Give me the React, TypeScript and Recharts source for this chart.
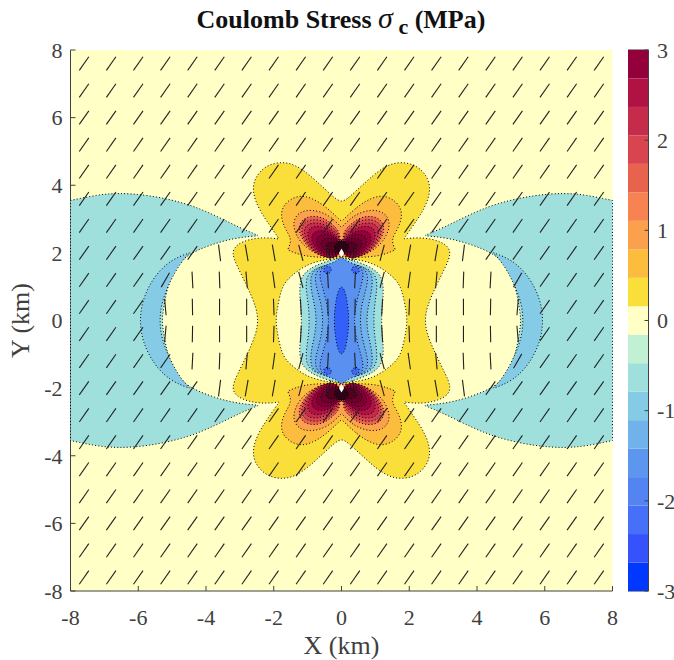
import { Bar, BarChart, CartesianGrid, ReferenceArea, Scatter, ScatterChart, Symbols, XAxis, YAxis } from "recharts"

type Pt = [number, number]

const axisTicks = [-8, -6, -4, -2, 0, 2, 4, 6, 8]
const colorbarTicks = [0, 1, 2, 3, 4, 5, 6]

// colorbar bands, bottom (-3) to top (3)
const bandColors = [
  "#0038FF", "#3552FB", "#4570F7", "#5384F2", "#5D96EE", "#71B2EA", "#85CBE6", "#9FE0DD", "#C2F0D2", "#FFFFC6",
  "#FADF3A", "#FCBC3E", "#FBA04C", "#F68351", "#E7634E", "#D8454F", "#C52C4B", "#B01243", "#94003C",
]

// contour outlines in km
const goldQuadrant: Pt[] = [
  [0, 3.49], [0.2, 3.62], [0.46, 3.86], [0.7, 4.08], [0.95, 4.31], [1.35, 4.6], [1.74, 4.7], [2.23, 4.6],
  [2.58, 4.21], [2.63, 3.77], [2.43, 3.27], [2.13, 2.83], [1.84, 2.41], [1.84, 2.41], [2.23, 2.46], [2.72, 2.41],
  [3.1, 2.25], [3.25, 2.0], [3.08, 1.6], [2.78, 1.01], [2.5, 0.35], [2.47, 0],
]
const circleQuadrant: Pt[] = [
  [0, 1.85], [0.4, 1.82], [0.91, 1.7], [1.26, 1.5], [1.6, 1.22], [1.78, 0.95], [1.92, 0.24], [1.93, 0],
]
const tealOuter: Pt[] = [
  [8, 3.55], [8, 3.55], [8, 3.55], [7.2, 3.72], [6.6, 3.77], [5.73, 3.72], [4.55, 3.47], [3.67, 3.08], [2.98, 2.73], [2.44, 2.51], [2.44, 2.51],
  [3.18, 2.44], [3.86, 2.24], [4.5, 1.98], [4.9, 1.6], [5.14, 1.01], [5.26, 0.32], [5.3, 0],
]
const crescentOuter: Pt[] = [
  [4.47, 2.01], [4.47, 2.01], [5.04, 1.8], [5.54, 1.31], [5.88, 0.62], [5.96, 0],
]
const crescentInner: Pt[] = [
  [5.37, 0], [5.32, 0.53], [5.04, 1.21], [4.75, 1.71],
]

const coolTeal: Pt[] = [[0, 1.84], [0.23, 1.82], [0.8, 1.62], [1.08, 1.42], [1.22, 1.2], [1.24, 0.8], [1.2, 0.4], [1.18, 0]]
const coolSky: Pt[] = [[0, 1.72], [0.55, 1.62], [0.92, 1.46], [1.06, 1.2], [1.03, 0.8], [0.97, 0.4], [0.95, 0]]
const coolAzure: Pt[] = [[0, 1.7], [0.5, 1.64], [0.82, 1.5], [0.93, 1.25], [0.88, 0.8], [0.78, 0.4], [0.74, 0]]
const coolBlue: Pt[] = [[0, 1.72], [0.4, 1.66], [0.68, 1.54], [0.8, 1.3], [0.72, 0.9], [0.6, 0.5], [0.54, 0]]
const coolMain: Pt[] = [[0, 1.92], [0.1, 1.78], [0.3, 1.7], [0.55, 1.6], [0.66, 1.4], [0.6, 1.1], [0.48, 0.7], [0.4, 0.3], [0.38, 0]]
const coolCore: Pt[] = [[0, 1.03], [0.1, 0.9], [0.17, 0.55], [0.21, 0.2], [0.21, 0]]
const coolSpot: Pt[] = [[0.27, 1.56], [0.42, 1.62], [0.55, 1.52], [0.5, 1.38], [0.34, 1.38]]

const warmAmber: Pt[] = [
  [0, 2.93], [0.46, 3.37], [0.86, 3.62], [1.24, 3.72], [1.64, 3.52], [1.82, 3.18], [1.69, 2.73], [1.45, 2.4],
  [1.59, 2.09], [1.59, 2.09], [1.15, 1.9], [0.5, 1.86], [0, 1.88],
]
const warmOrange: Pt[] = [
  [0, 2.75], [0.36, 3.13], [0.86, 3.29], [1.25, 3.22], [1.45, 2.93], [1.35, 2.5], [1.05, 2.14], [0.65, 1.92], [0.3, 1.88], [0, 1.9],
]
const warmCoral: Pt[] = [
  [0.03, 2.6], [0.2, 2.78], [0.45, 3.0], [0.76, 3.1], [1.1, 3.05], [1.28, 2.8], [1.22, 2.5], [0.95, 2.1], [0.6, 1.9], [0.3, 1.86], [0.03, 1.97],
]
const warmRose: Pt[] = [
  [0.03, 2.5], [0.2, 2.7], [0.45, 2.92], [0.76, 3.0], [1.05, 2.95], [1.2, 2.75], [1.14, 2.45], [0.88, 2.08], [0.55, 1.88], [0.28, 1.86], [0.03, 1.97],
]
const warmRed: Pt[] = [
  [0.03, 2.42], [0.2, 2.62], [0.42, 2.82], [0.74, 2.9], [1.0, 2.86], [1.12, 2.68], [1.06, 2.4], [0.82, 2.05], [0.5, 1.86], [0.26, 1.85], [0.03, 1.97],
]
const warmCrimson: Pt[] = [
  [0.03, 2.35], [0.18, 2.52], [0.38, 2.72], [0.68, 2.8], [0.92, 2.76], [1.02, 2.58], [0.96, 2.32], [0.74, 2.04], [0.45, 1.86], [0.25, 1.85], [0.03, 1.97],
]
const warmMaroon: Pt[] = [
  [0.03, 2.3], [0.16, 2.44], [0.34, 2.62], [0.6, 2.68], [0.82, 2.62], [0.9, 2.45], [0.84, 2.24], [0.64, 2.02], [0.4, 1.88], [0.22, 1.86], [0.03, 1.97],
]
const warmRingA: Pt[] = [
  [0.03, 2.26], [0.14, 2.38], [0.3, 2.52], [0.52, 2.56], [0.7, 2.5], [0.76, 2.36], [0.7, 2.18], [0.54, 2.02], [0.34, 1.9], [0.03, 1.97],
]
const warmRingB: Pt[] = [
  [0.03, 2.22], [0.12, 2.32], [0.26, 2.42], [0.42, 2.44], [0.58, 2.38], [0.62, 2.26], [0.56, 2.14], [0.42, 2.02], [0.26, 1.94], [0.03, 1.98],
]
const warmRingC: Pt[] = [
  [0.03, 2.18], [0.1, 2.26], [0.22, 2.32], [0.34, 2.32], [0.44, 2.26], [0.46, 2.18], [0.4, 2.08], [0.28, 2.0], [0.03, 2.0],
]
const warmBlack: Pt[] = [[0, 2.38], [0.1, 2.32], [0.22, 2.22], [0.2, 2.1], [0.1, 2.02], [0, 2.0]]

const sourcePoints = [{ x: 0, y: 2 }, { x: 0, y: -2 }]

// strike marks
const markXs = [-7.6, -6.8, -6, -5.2, -4.4, -3.6, -2.8, -2, -1.2, -0.4, 0.4, 1.2, 2, 2.8, 3.6, 4.4, 5.2, 6, 6.8, 7.6]
const markYs = [7.6, 6.8, 6, 5.2, 4.4, 3.6, 2.8, 2, 1.2, 0.4, -0.4, -1.2, -2, -2.8, -3.6, -4.4, -5.2, -6, -6.8, -7.6]
const farRow = [55, 55, 55, 55, 55, 55, 55, 55, 55, 55, 55, 55, 55, 55, 55, 55, 55, 55, 55, 55]
const rowPlus20 = [55, 55, 55, 55, 55, 97, 100, 100, 105, 110, 70, 75, 80, 80, 83, 55, 55, 55, 55, 55]
const rowPlus12 = [55, 55, 55, 60, 93, 92, 95, 98, 105, 93, 87, 75, 82, 85, 88, 87, 60, 55, 55, 55]
const rowPlus04 = [55, 55, 55, 95, 91, 90, 90, 92, 93, 91, 89, 87, 88, 90, 90, 89, 85, 55, 55, 55]
const rowMinus04 = [55, 55, 55, 85, 89, 90, 90, 88, 87, 89, 91, 93, 92, 90, 90, 91, 95, 55, 55, 55]
const rowMinus12 = [55, 55, 55, 55, 87, 88, 85, 82, 75, 87, 93, 105, 98, 95, 92, 93, 60, 55, 55, 55]
const rowMinus20 = [55, 55, 55, 55, 55, 83, 80, 80, 75, 70, 110, 105, 100, 100, 97, 55, 55, 55, 55, 55]
const markAngles = [
  farRow, farRow, farRow, farRow, farRow, farRow, farRow, rowPlus20, rowPlus12, rowPlus04,
  rowMinus04, rowMinus12, rowMinus20, farRow, farRow, farRow, farRow, farRow, farRow, farRow,
]

const flipY = (pts: Pt[]): Pt[] => pts.map(([x, y]) => [x, -y] as Pt)
const flipX = (pts: Pt[]): Pt[] => pts.map(([x, y]) => [-x, y] as Pt)

// quadrant from the y axis round to the x axis, into a whole loop
function fromQuadrant(q: Pt[]): Pt[] {
  const right = [...q, ...flipY(q.slice(0, -1).reverse())]
  return [...right, ...flipX(right.slice(1, -1).reverse())]
}
// half outline ending on the y axis, reflected over it
const fromHalf = (half: Pt[]): Pt[] => [...half, ...flipX(half.slice().reverse())]
// half outline ending on the x axis, reflected over it
const acrossX = (half: Pt[]): Pt[] => [...half, ...flipY(half.slice(0, -1).reverse())]

const teal = acrossX(tealOuter)
const crescent = [...acrossX(crescentOuter), ...flipY(crescentInner.slice(1)).reverse(), ...crescentInner]

function allLobes(lobe: Pt[]): Pt[][] {
  return [lobe, flipX(lobe), flipY(lobe), flipY(flipX(lobe))]
}

const regions: { pts: Pt[]; color: string }[] = [
  { pts: teal, color: bandColors[7] },
  { pts: flipX(teal), color: bandColors[7] },
  { pts: crescent, color: bandColors[6] },
  { pts: flipX(crescent), color: bandColors[6] },
  { pts: fromQuadrant(goldQuadrant), color: bandColors[10] },
  { pts: fromQuadrant(circleQuadrant), color: bandColors[9] },
  { pts: fromQuadrant(coolTeal), color: bandColors[7] },
  { pts: fromQuadrant(coolSky), color: bandColors[6] },
  { pts: fromQuadrant(coolAzure), color: bandColors[5] },
  { pts: fromQuadrant(coolBlue), color: "#68A4EC" },
  { pts: fromQuadrant(coolMain), color: "#5A90F0" },
  { pts: fromQuadrant(coolCore), color: "#3460FA" },
  ...allLobes(coolSpot).map((pts) => ({ pts, color: "#3C68F5" })),
  { pts: fromHalf(warmAmber), color: bandColors[11] },
  { pts: flipY(fromHalf(warmAmber)), color: bandColors[11] },
  { pts: fromHalf(warmOrange), color: bandColors[12] },
  { pts: flipY(fromHalf(warmOrange)), color: bandColors[12] },
  ...allLobes(warmCoral).map((pts) => ({ pts, color: bandColors[14] })),
  ...allLobes(warmRose).map((pts) => ({ pts, color: bandColors[15] })),
  ...allLobes(warmRed).map((pts) => ({ pts, color: bandColors[16] })),
  ...allLobes(warmCrimson).map((pts) => ({ pts, color: bandColors[17] })),
  ...allLobes(warmMaroon).map((pts) => ({ pts, color: bandColors[18] })),
  ...allLobes(warmRingA).map((pts) => ({ pts, color: "#7E0033" })),
  ...allLobes(warmRingB).map((pts) => ({ pts, color: "#6A002B" })),
  ...allLobes(warmRingC).map((pts) => ({ pts, color: "#520020" })),
  { pts: fromHalf(warmBlack), color: "#2A0414" },
  { pts: flipY(fromHalf(warmBlack)), color: "#2A0414" },
]

const markData = markYs.flatMap((y, r) => markXs.map((x, c) => ({ x, y, angle: markAngles[r][c] })))

const serif = "'Liberation Serif', 'Times New Roman', serif"
const inkColor = "#404040"
const tickStyle = { fontFamily: serif, fontSize: 22, fill: inkColor }

const NoDot = () => <g />

function StrikeMark({ cx = 0, cy = 0, payload }: any) {
  const a = (payload.angle * Math.PI) / 180
  const dx = 8.3 * Math.cos(a)
  const dy = 8.3 * Math.sin(a)
  return <line x1={cx - dx} y1={cy + dy} x2={cx + dx} y2={cy - dy} stroke="#222" strokeWidth={1.1} />
}

function SourceMark({ cx = 0, cy = 0 }: any) {
  return <Symbols type="diamond" size={22} cx={cx} cy={cy} fill="#fff" />
}

const colorbarRow = [{ name: "bar", ...Object.fromEntries(bandColors.map((_, i) => [`b${i}`, 6 / 19])) }]

export default function App() {
  return (
    <div style={{ position: "absolute", left: 0, top: 0, width: 674, height: 660, background: "#fff" }}>
      <ScatterChart
        width={674}
        height={660}
        margin={{ top: 50, right: 61.5, bottom: 0, left: 0 }}
        style={{ position: "absolute", left: 0, top: 0 }}
      >
        <CartesianGrid horizontal={false} vertical={false} fill={bandColors[9]} stroke="none" />
        <XAxis
          type="number"
          dataKey="x"
          domain={[-8, 8]}
          ticks={axisTicks}
          interval={0}
          height={69}
          tickSize={-5}
          tickMargin={23}
          tick={tickStyle}
          stroke={inkColor}
          label={{ value: "X (km)", position: "insideBottom", offset: 6, style: { fontFamily: serif, fontSize: 26, fill: inkColor } }}
        />
        <YAxis
          type="number"
          dataKey="y"
          domain={[-8, 8]}
          ticks={axisTicks}
          interval={0}
          width={70.5}
          tickSize={-5}
          tickMargin={13}
          tick={tickStyle}
          stroke={inkColor}
          label={{ value: "Y (km)", angle: -90, position: "insideLeft", offset: 20, style: { fontFamily: serif, fontSize: 26, fill: inkColor, textAnchor: "middle" } }}
        />
        <XAxis xAxisId="top" orientation="top" type="number" domain={[-8, 8]} ticks={axisTicks} interval={0} height={0} tickSize={-5} tick={false} stroke={inkColor} />
        <YAxis yAxisId="right" orientation="right" type="number" domain={[-8, 8]} ticks={axisTicks} interval={0} width={0} tickSize={-5} tick={false} stroke={inkColor} />

        {regions.map((r, i) => (
          <Scatter
            key={i}
            data={r.pts.map(([x, y]) => ({ x, y }))}
            shape={NoDot}
            lineJointType="basisClosed"
            line={{ fill: r.color, stroke: "#000", strokeWidth: 1, strokeDasharray: "1 2.2" }}
            isAnimationActive={false}
          />
        ))}
        <Scatter data={markData} shape={StrikeMark} isAnimationActive={false} />
        <Scatter data={sourcePoints} shape={SourceMark} isAnimationActive={false} />
      </ScatterChart>

      <BarChart
        width={46}
        height={660}
        data={colorbarRow}
        barCategoryGap={0}
        margin={{ top: 50, right: 0, bottom: 69, left: 0 }}
        style={{ position: "absolute", left: 628, top: 0 }}
      >
        <XAxis dataKey="name" height={0} tick={false} tickLine={false} axisLine={false} />
        <YAxis
          orientation="right"
          type="number"
          domain={[0, 6]}
          ticks={colorbarTicks}
          interval={0}
          width={25.5}
          tickSize={-4}
          tickMargin={12.5}
          tickFormatter={(v: number) => `${v - 3}`}
          tick={tickStyle}
          stroke={inkColor}
        />
        {bandColors.map((c, i) => (
          <Bar key={c} dataKey={`b${i}`} stackId="bar" fill={c} isAnimationActive={false} />
        ))}
        <ReferenceArea y1={0} y2={6} fill="none" stroke="#333" strokeWidth={1} />
      </BarChart>

      <div
        style={{
          position: "absolute",
          left: 0,
          width: 682,
          top: 2,
          textAlign: "center",
          fontFamily: serif,
          fontWeight: "bold",
          fontSize: 26,
          lineHeight: "32px",
          color: "#111",
          whiteSpace: "nowrap",
        }}
      >
        Coulomb Stress <i style={{ fontSize: 30, fontWeight: "normal" }}>σ</i>
        <sub style={{ fontSize: 22, verticalAlign: -6, lineHeight: 0 }}> c</sub> (MPa)
      </div>
    </div>
  )
}
